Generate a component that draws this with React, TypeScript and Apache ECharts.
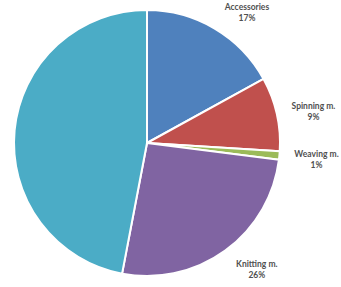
import React, { useEffect, useRef } from "react";
import * as echarts from "echarts";

const categories = ["Accessories", "Spinning m.", "Weaving m.", "Knitting m.", "Finishing m."];
const shares = [17, 9, 1, 26, 47];
const colors = ["#4F81BD", "#C0504D", "#9BBB59", "#8064A2", "#4BACC6"];

const CX = 147;
const CY = 143;
const R = 133;

export default function App() {
  const ref = useRef<HTMLDivElement>(null);
  useEffect(() => {
    if (!ref.current) return;
    const chart = echarts.init(ref.current, undefined, { renderer: "svg" });
    chart.setOption({
      animation: false,
      backgroundColor: "#ffffff",
      series: [
        {
          type: "pie",
          center: [CX, CY],
          radius: R,
          startAngle: 90,
          clockwise: true,
          avoidLabelOverlap: false,
          data: categories.map((name, i) => ({
            name,
            value: shares[i],
            itemStyle: { color: colors[i] },
          })),
          itemStyle: { borderColor: "#ffffff", borderWidth: 2 },
          label: {
            show: true,
            position: "outside",
            formatter: "{b}\n{c}%",
            color: "#505050",
            fontFamily: "Lato, sans-serif",
            fontWeight: "bold",
            fontSize: 8.5,
            lineHeight: 11,
          },
          labelLine: { show: false, length: 10, length2: 0 },
          labelLayout: (p: any) => {
            const r = p.labelRect;
            const my = r.y + r.height / 2;
            const mx = r.x + r.width / 2;
            const k = (my - CY) / (R + 10);
            const right = mx > CX;
            return {
              align: "center",
              dx: right ? r.width / 2 : -r.width / 2,
              dy: (k * r.height) / 2 + 2,
            };
          },
          emphasis: { disabled: true },
        },
      ],
    });
    return () => chart.dispose();
  }, []);
  return (
    <div
      ref={ref}
      style={{ position: "fixed", left: 0, top: 0, width: 341, height: 287 }}
    />
  );
}
